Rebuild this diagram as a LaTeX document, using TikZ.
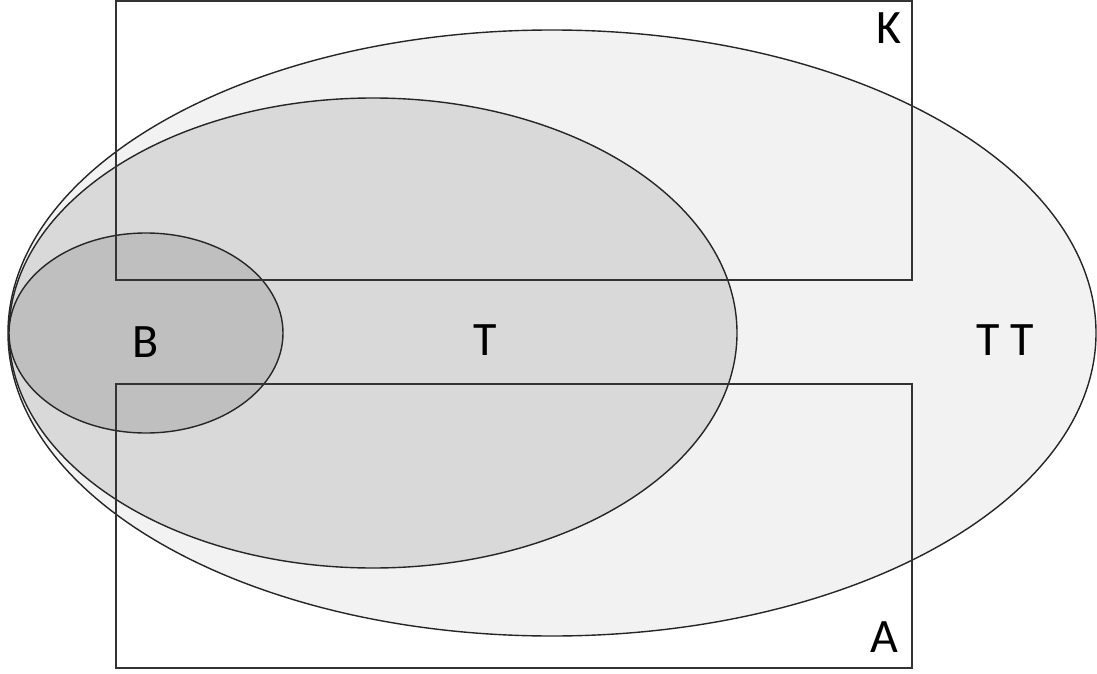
\documentclass[tikz,border=0pt]{standalone}
\usepackage{fontspec}
\setmainfont{Carlito}
\usepackage{xcolor}
\usepackage{tikz}
\definecolor{outergray}{RGB}{242,242,242}
\definecolor{midgray}{RGB}{217,217,217}
\definecolor{innergray}{RGB}{191,191,191}

\begin{document}
\begin{tikzpicture}[
  x=0.5pt, y=-0.5pt,
  font=\fontsize{24}{28}\selectfont,
  set/.style={draw=black!85, line width=0.7pt},
  frame/.style={draw=black!80, line width=0.65pt},
  lbl/.style={inner sep=0pt, anchor=center}]

  \useasboundingbox (0,0) rectangle (1097,674);

  % the three nested sets
  \draw[set, fill=outergray] (552,333) ellipse [x radius=544, y radius=303];
  \draw[set, fill=midgray] (373,333) ellipse [x radius=364, y radius=235];
  \draw[set, fill=innergray] (146,333) ellipse [x radius=137, y radius=100];

  % the two frames on top
  \draw[frame] (116,1) rectangle (912,280);
  \draw[frame] (116,384) rectangle (912,668);

  \node[lbl] (k) at (889,28) {K};
  \node[lbl] (a) at (884,637) {A};
  \node[lbl] (b) at (146,342) {B};
  \node[lbl] (t) at (485,340) {T};
  \node[lbl] (tt) at (1005,340) {T T};
\end{tikzpicture}
\end{document}
